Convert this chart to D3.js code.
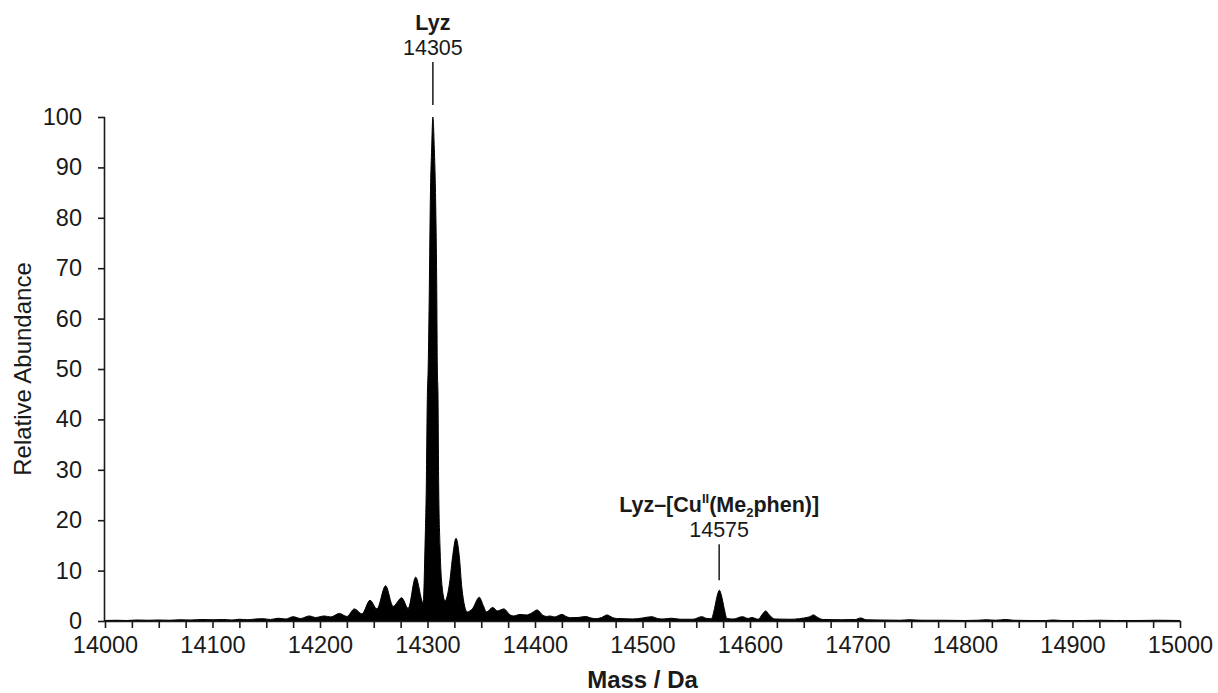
<!DOCTYPE html>
<html>
<head>
<meta charset="utf-8">
<script src="https://cdn.jsdelivr.net/npm/d3@7"></script>
<style>
  html, body { margin: 0; padding: 0; background: #fff; }
  svg { display: block; }
  text { font-family: "Liberation Sans", Arial, Helvetica, sans-serif; fill: #1a1a1a; }
</style>
</head>
<body>
<svg id="chart" width="1218" height="693"></svg>
<script>
// ---- Data ----
const masses = [
  14000, 14010, 14020, 14030, 14040, 14050, 14060, 14070, 14080, 14090,
  14100, 14110, 14118, 14125, 14133, 14140, 14147, 14154, 14161, 14168,
  14175, 14182, 14190, 14196, 14204, 14210, 14218, 14225, 14232, 14239,
  14246.5, 14253, 14261, 14268, 14276, 14282, 14289, 14296,
  14297.7, 14298.9, 14299.8, 14300.7, 14301.7, 14302.6, 14303.9, 14305,
  14306.3, 14307.6, 14308.6, 14309.1, 14309.8, 14310.4, 14311.6, 14313.5,
  14316.3, 14320.5, 14323.5, 14326.5, 14329.5, 14332, 14337,
  14342, 14348.2, 14352, 14355, 14360.6, 14365, 14371, 14377, 14380,
  14386, 14392, 14397, 14402, 14407, 14411, 14414, 14418, 14425, 14430,
  14433, 14440, 14447, 14452, 14457, 14462, 14467, 14472, 14476, 14484,
  14491, 14500, 14508.5, 14514, 14519, 14527, 14535, 14547, 14555, 14560,
  14564, 14567, 14569.5, 14571.5, 14573.5, 14576, 14578.5, 14584.5, 14593,
  14598.4, 14601.6, 14607.7, 14611, 14614.6, 14618, 14623, 14637, 14655,
  14659, 14663, 14668, 14685, 14698, 14703, 14708, 14720, 14740, 14748,
  14760, 14780, 14800, 14812, 14820, 14828, 14838, 14845, 14860, 14875,
  14882, 14890, 14910, 14925, 14940, 14960, 14980, 15000
];
const abundance = [
  0.1, 0.15, 0.1, 0.2, 0.15, 0.2, 0.15, 0.25, 0.2, 0.3,
  0.25, 0.3, 0.2, 0.35, 0.25, 0.4, 0.45, 0.3, 0.55, 0.4,
  0.85, 0.5, 1.0, 0.7, 1.0, 0.8, 1.5, 0.9, 2.4, 1.4,
  4.1, 2.4, 7.0, 2.9, 4.6, 2.5, 8.7, 3.6,
  15, 27, 44, 51, 66, 83, 94, 100,
  94, 83, 66, 51, 44, 27, 15, 7,
  4.0, 7.5, 13, 16.4, 13, 6.5, 1.8,
  2.5, 4.7, 3.0, 1.8, 2.7, 2.0, 2.4, 1.2, 1.0,
  1.3, 1.2, 1.6, 2.2, 1.2, 0.9, 1.0, 0.8, 1.3, 0.8,
  0.66, 0.7, 0.9, 0.6, 0.46, 0.7, 1.2, 0.7, 0.5, 0.45,
  0.4, 0.6, 0.86, 0.5, 0.4, 0.55, 0.35, 0.35, 0.86, 0.5,
  0.45, 2.5, 5.0, 6.1, 5.0, 2.5, 0.5, 0.4, 0.86,
  0.5, 0.7, 0.35, 1.2, 2.0, 1.2, 0.4, 0.35, 0.8,
  1.2, 0.7, 0.3, 0.25, 0.3, 0.6, 0.25, 0.2, 0.15, 0.25,
  0.15, 0.15, 0.1, 0.15, 0.25, 0.15, 0.3, 0.15, 0.1, 0.1,
  0.2, 0.1, 0.1, 0.15, 0.1, 0.1, 0.15, 0.1
];

const xTickValues = [14000, 14100, 14200, 14300, 14400, 14500, 14600, 14700, 14800, 14900, 15000];
const xMinorTickValues = d3.range(14000, 15001, 25);
const yTickValues = [0, 10, 20, 30, 40, 50, 60, 70, 80, 90, 100];

const annotationMasses = [14305, 14571.3];
const annotationPeaks = [100, 6.1];
const annotationNumbers = ["14305", "14575"];

const xTitle = "Mass / Da";
const yTitle = "Relative Abundance";

// ---- Layout ----
const svg = d3.select("#chart");
const mLeft = 105, mRight = 1180, mTop = 117, mBottom = 621;

const x = d3.scaleLinear().domain([14000, 15000]).range([mLeft, mRight]);
const y = d3.scaleLinear().domain([0, 100]).range([mBottom, mTop]);

const data = masses.map((m, i) => ({ m, v: abundance[i] }));

// spectrum area
const area = d3.area()
  .x(d => x(d.m))
  .y0(y(0))
  .y1(d => y(d.v))
  .curve(d3.curveMonotoneX);

svg.append("path")
  .datum(data)
  .attr("d", area)
  .attr("fill", "#000")
  .attr("stroke", "#000")
  .attr("stroke-width", 1)
  .attr("stroke-linejoin", "round");

// axes
const tickFont = 23.5;
const xAxis = d3.axisBottom(x)
  .tickValues(xMinorTickValues)
  .tickSize(7)
  .tickPadding(8)
  .tickFormat(d => xTickValues.includes(d) ? String(d) : "");
const gx = svg.append("g").attr("transform", `translate(0,${mBottom})`).call(xAxis);

const yAxis = d3.axisLeft(y)
  .tickValues(yTickValues)
  .tickSize(7)
  .tickPadding(16)
  .tickFormat(d => String(d));
const gy = svg.append("g").attr("transform", `translate(${mLeft},0)`).call(yAxis);

[gx, gy].forEach(g => {
  g.select(".domain").attr("stroke", "#1a1a1a").attr("stroke-width", 1.6);
  g.selectAll(".tick line").attr("stroke", "#1a1a1a").attr("stroke-width", 1.6);
  g.selectAll(".tick text")
    .attr("font-family", '"Liberation Sans", Arial, sans-serif')
    .attr("font-size", tickFont)
    .attr("fill", "#1a1a1a");
});
gx.select(".domain").attr("d", `M${mLeft},0.5H${mRight}`);
gy.select(".domain").attr("d", `M-0.5,${mBottom}V${mTop}`);

// axis titles
svg.append("text")
  .attr("x", (mLeft + mRight) / 2)
  .attr("y", 688)
  .attr("text-anchor", "middle")
  .attr("font-size", 24)
  .attr("font-weight", "bold")
  .text(xTitle);

svg.append("text")
  .attr("transform", `translate(31,${(mTop + mBottom) / 2}) rotate(-90)`)
  .attr("text-anchor", "middle")
  .attr("font-size", 24)
  .text(yTitle);

// annotations
const annFont = 21.5;
const gaps = [12, 10];
const lineLengths = [43, 36];
annotationMasses.forEach((m, i) => {
  const cx = x(m);
  const lineBottom = y(annotationPeaks[i]) - gaps[i];
  const lineTop = lineBottom - lineLengths[i];
  svg.append("line")
    .attr("x1", cx).attr("x2", cx)
    .attr("y1", lineTop).attr("y2", lineBottom)
    .attr("stroke", "#1a1a1a").attr("stroke-width", 1.5);
  svg.append("text")
    .attr("x", cx).attr("y", lineTop - 7)
    .attr("text-anchor", "middle")
    .attr("font-size", annFont)
    .text(annotationNumbers[i]);
  const lab = svg.append("text")
    .attr("x", cx).attr("y", lineTop - 32)
    .attr("text-anchor", "middle")
    .attr("font-size", annFont)
    .attr("font-weight", "bold");
  if (i === 0) {
    lab.text("Lyz");
  } else {
    lab.append("tspan").text("Lyz–[Cu");
    lab.append("tspan").attr("font-size", 13).attr("dy", -9).text("II");
    lab.append("tspan").attr("dy", 9).text("(Me");
    lab.append("tspan").attr("font-size", 13).attr("dy", 5).text("2");
    lab.append("tspan").attr("dy", -5).text("phen)]");
  }
});
</script>
</body>
</html>
